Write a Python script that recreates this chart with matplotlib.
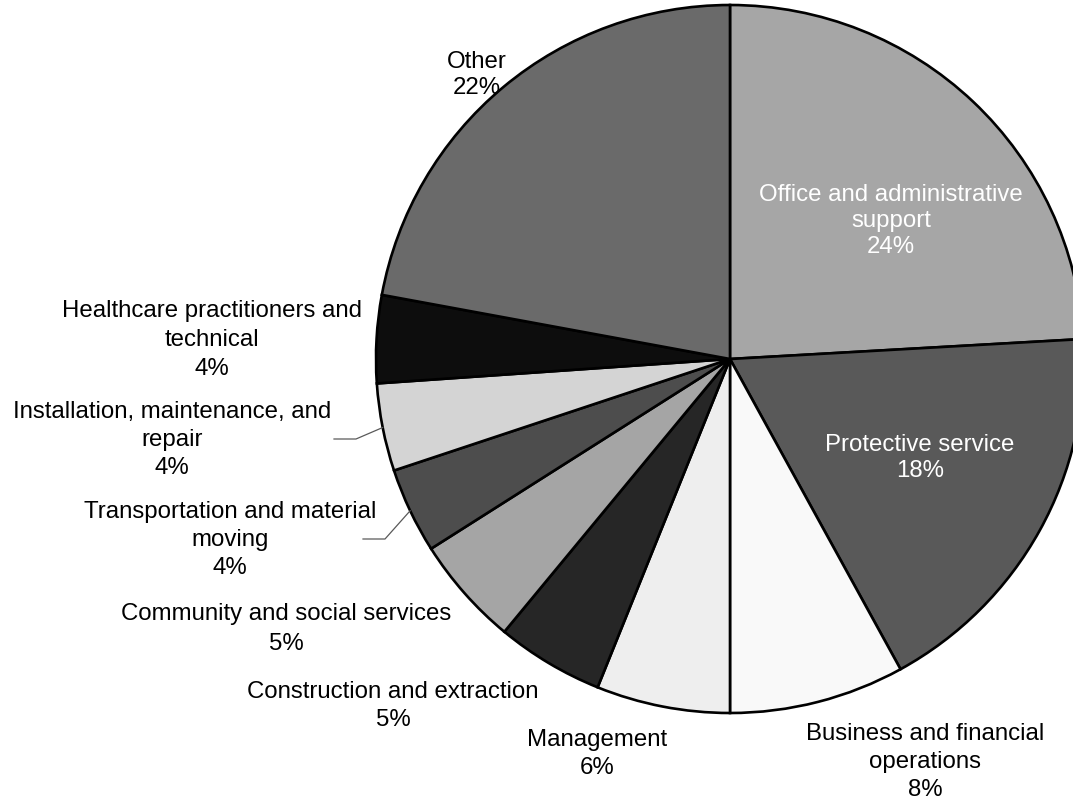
import numpy as np
import matplotlib
matplotlib.use("Agg")
import matplotlib.pyplot as plt

# data (share of total, %)
categories = [
    "Office and administrative\nsupport",
    "Protective service",
    "Business and financial\noperations",
    "Management",
    "Construction and extraction",
    "Community and social services",
    "Transportation and material\nmoving",
    "Installation, maintenance, and\nrepair",
    "Healthcare practitioners and\ntechnical",
    "Other",
]
shares = [24.1, 17.9, 8.0, 6.1, 4.9, 5.0, 3.9, 4.0, 4.0, 22.1]
pct_labels = ["24%", "18%", "8%", "6%", "5%", "5%", "4%", "4%", "4%", "22%"]

colors = ["#a6a6a6", "#595959", "#f9f9f9", "#eeeeee", "#262626",
          "#a5a5a5", "#4d4d4d", "#d4d4d4", "#0d0d0d", "#6a6a6a"]

# label layout in pixel coords (y from top), text colour, line spacing, leader elbows
label_pos = [(891, 221), (920, 458), (925, 762), (597, 754), (393, 706),
             (286, 629), (230, 540), (172, 440), (212, 340), (477, 75)]
label_col = ["white", "white"] + ["black"] * 8
label_ls = [1.25, 1.25, 1.38, 1.32, 1.35, 1.42, 1.38, 1.38, 1.4, 1.25]
leaders = {6: [(385, 540), (363, 540)], 7: [(356, 440), (334, 440)]}

W, H = 1073, 803
cx, cy, r = 730, 360, 354

plt.rcParams["font.family"] = ["Liberation Sans", "DejaVu Sans"]
fig = plt.figure(figsize=(W / 100, H / 100), dpi=100)
ax = fig.add_axes([0, 0, 1, 1])

ax.pie(shares, colors=colors, startangle=90, counterclock=False,
       center=(cx, H - cy), radius=r,
       wedgeprops=dict(edgecolor="black", linewidth=1.9))
ax.set_xlim(0, W)
ax.set_ylim(0, H)
ax.set_aspect("equal")
ax.axis("off")

for i, (name, pct) in enumerate(zip(categories, pct_labels)):
    x, y = label_pos[i]
    ax.text(x, H - y, f"{name}\n{pct}", ha="center", va="center",
            fontsize=17.3, color=label_col[i], linespacing=label_ls[i])

# leader lines from wedge mid-angle on the rim
cum = np.cumsum([0] + shares) / sum(shares)
for i, pts in leaders.items():
    mid = (cum[i] + cum[i + 1]) / 2 * 2 * np.pi
    x0 = cx + r * np.sin(mid)
    y0 = cy - r * np.cos(mid)
    xs = [x0] + [p[0] for p in pts]
    ys = [H - y0] + [H - p[1] for p in pts]
    ax.plot(xs, ys, color="#595959", linewidth=0.9)

fig.savefig("out.png", dpi=100)
